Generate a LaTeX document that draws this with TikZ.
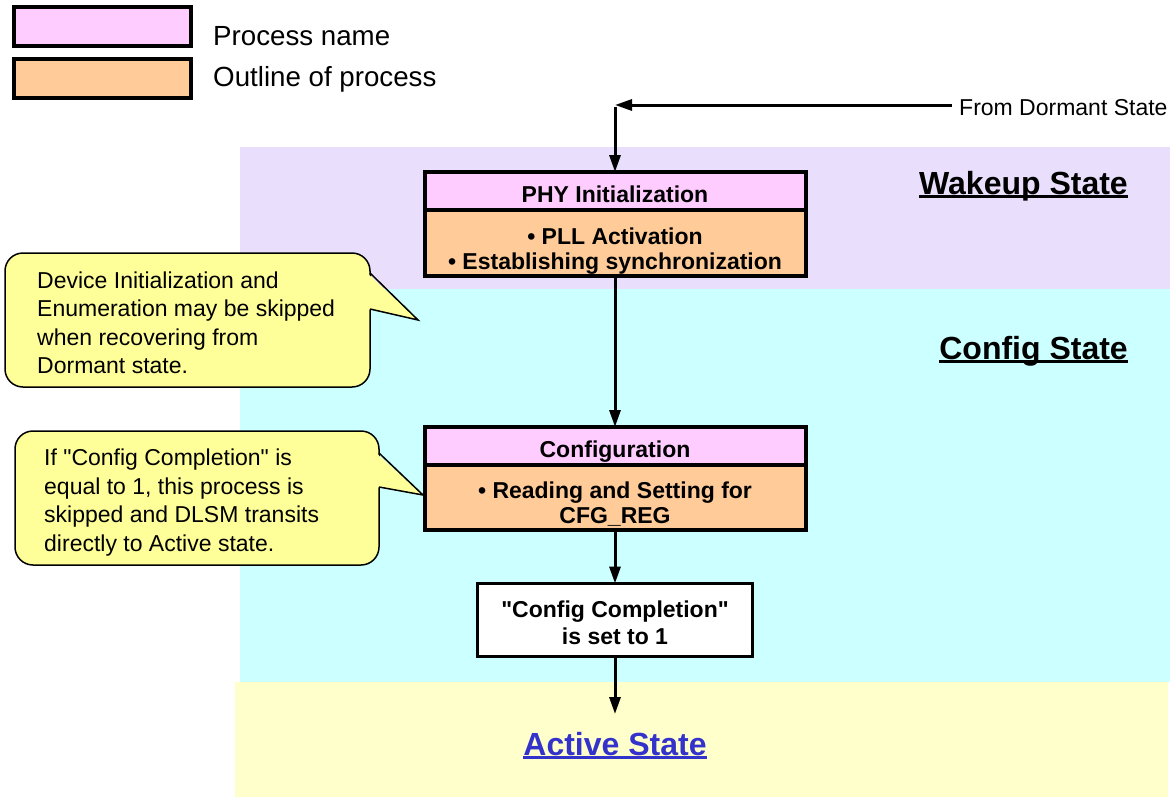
\documentclass[tikz,border=0pt]{standalone}
\usepackage{fontspec}
\setmainfont{Liberation Sans}
\usetikzlibrary{arrows.meta,positioning}
\definecolor{wakeupbg}{HTML}{E9DFFC}
\definecolor{configbg}{HTML}{CCFFFF}
\definecolor{activebg}{HTML}{FFFFCC}
\definecolor{namefill}{HTML}{FFCCFF}
\definecolor{outlinefill}{HTML}{FFCC99}
\definecolor{notefill}{HTML}{FFFF99}
\definecolor{activeink}{HTML}{3333CC}
\newsavebox{\ulbox}
\newcommand{\stateul}[1]{\sbox{\ulbox}{#1}\rlap{\rule[-4pt]{\wd\ulbox}{2.6pt}}\usebox{\ulbox}}

\begin{document}
\begin{tikzpicture}[
  x=1pt, y=-1pt,
  node distance=10pt,
  namebox/.style={rectangle, draw, line width=4pt, fill=namefill, outer sep=0pt, inner sep=0pt,
    minimum width=381pt, minimum height=38pt, text height=23.5pt, text depth=0pt, font=\fontsize{23}{25}\selectfont\bfseries},
  outlinebox/.style={namebox, fill=outlinefill, align=center, text height=52pt},
  donebox/.style={rectangle, draw, line width=3pt, fill=white, outer sep=0pt, inner sep=0pt,
    minimum width=275pt, minimum height=73pt, text height=48pt, text depth=0pt, align=center, font=\fontsize{23}{27}\selectfont\bfseries},
  legendtext/.style={inner sep=0pt, font=\fontsize{27.7}{30}\selectfont},
  note/.style={draw, line width=1.5pt, fill=notefill, rounded corners=18pt},
  notetext/.style={anchor=west, inner sep=0pt, text depth=0pt, align=left, font=\fontsize{23}{28.5}\selectfont},
  statetitle/.style={inner sep=0pt, font=\fontsize{32}{36}\selectfont\bfseries},
  flow/.style={-{Triangle[length=17pt,width=11pt]}, line width=3pt},
]
  \useasboundingbox[fill=white] (0,0) rectangle (1173,798);

  % state bands
  \fill[wakeupbg] (240,147) rectangle (1170,289);
  \fill[configbg] (240,289) rectangle (1170,682);
  \fill[activebg] (235,682) rectangle (1168,797);

  % legend
  \node[namebox, minimum width=177pt, minimum height=39pt, text height=0pt] (legname) at (102.5,26.5) {};
  \node[outlinebox, minimum width=177pt, minimum height=39pt, text height=0pt] (legoutline) at (102.5,78.5) {};
  \node[legendtext, anchor=base west] (legnametext) at (213,45) {Process name};
  \node[legendtext, anchor=base west] (legoutlinetext) at (213,86) {Outline of process};

  \node[statetitle, anchor=base east] (wakeup) at (1128,194) {\stateul{Wakeup State}};
  \node[statetitle, anchor=base east] (config) at (1128,359) {\stateul{Config State}};
  \node[statetitle, anchor=base, text=activeink] (active) at (615,755) {\stateul{Active State}};

  \node[inner sep=0pt, inner xsep=7pt, anchor=base west, font=\fontsize{23}{26}\selectfont] (dormant) at (952,115) {From Dormant State};
  \coordinate (turn) at (615,105);
  \coordinate (activein) at (615,714);

  \node[namebox] (phyname) at (615,191) {PHY Initialization};
  \node[outlinebox, minimum height=66pt, below=0pt of phyname] (phybody) {\textbullet\ PLL Activation\\\textbullet\ Establishing synchronization};
  \node[namebox, below=151pt of phybody] (cfgname) {Configuration};
  \node[outlinebox, minimum height=65pt, below=0pt of cfgname] (cfgbody) {\textbullet\ Reading and Setting for\\CFG\_REG};
  \node[donebox, below=53.5pt of cfgbody] (done) {\textquotedbl Config Completion\textquotedbl\\is set to 1};

  \draw[flow] (dormant.west |- turn) -- (turn);
  \draw[flow] ([yshift=-2pt]turn) -- (phyname);
  \draw[flow] (phybody) -- (cfgname);
  \draw[flow] (cfgbody) -- (done);
  \draw[flow] (done) -- (activein);

  % callouts
  \draw[note] (5,253) rectangle (370,387);
  \fill[notefill] (367,273) -- (418,320) -- (367,309) -- cycle;
  \draw[line width=1.5pt] (370,273) -- (418,320) -- (370,309);
  \node[notetext] (skipnote) at (37,322.5) {Device Initialization and\\Enumeration may be skipped\\when recovering from\\Dormant state.};

  \draw[note] (15,431) rectangle (379,565);
  \fill[notefill] (376,453) -- (423,495) -- (376,487) -- cycle;
  \draw[line width=1.5pt] (379,453) -- (423,495) -- (379,487);
  \node[notetext] (cfgnote) at (44,500) {If \textquotedbl Config Completion\textquotedbl\ is\\equal to 1, this process is\\skipped and DLSM transits\\directly to Active state.};
\end{tikzpicture}
\end{document}
